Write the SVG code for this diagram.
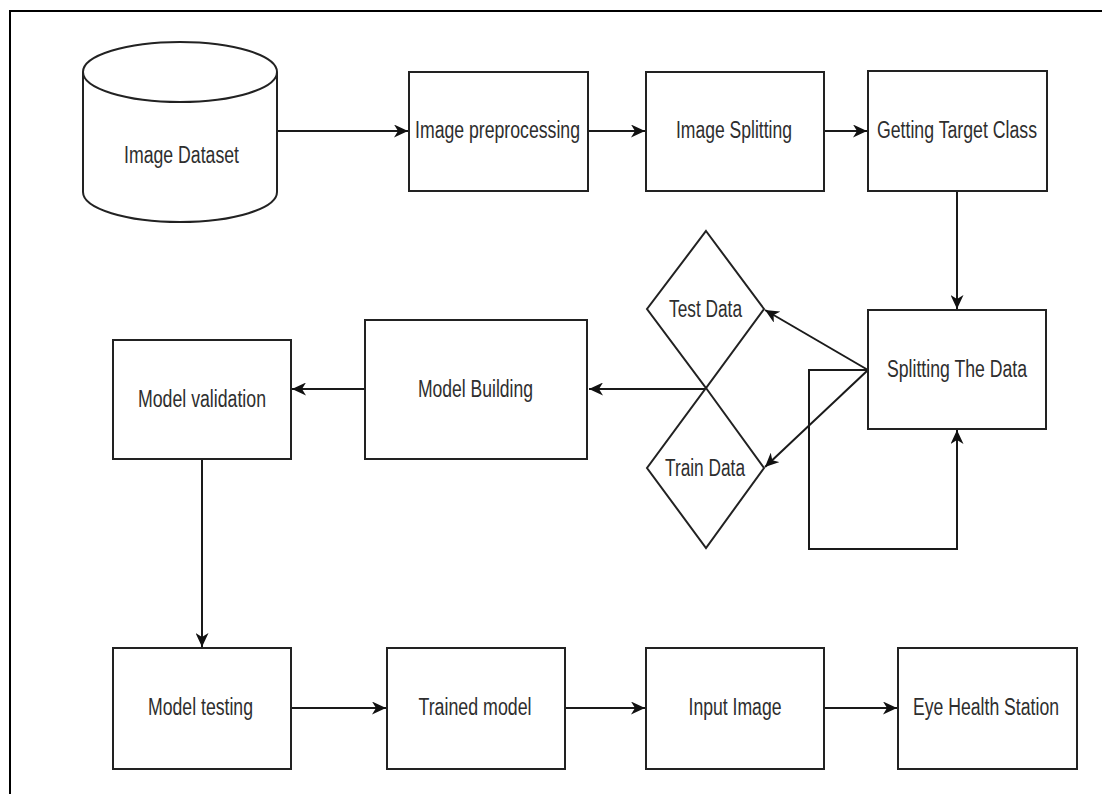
<svg xmlns="http://www.w3.org/2000/svg" width="1102" height="794" viewBox="0 0 1102 794">
<style>
.box{fill:#fff;stroke:#222;stroke-width:2}
.lbl{font-family:"Liberation Sans",Arial,sans-serif;font-size:23px;fill:#2e2e2e;text-anchor:middle}
.edge{fill:none;stroke:#1a1a1a;stroke-width:2}
.frame{fill:none;stroke:#000;stroke-width:2}
</style>
<defs>
<marker id="arr" markerUnits="userSpaceOnUse" markerWidth="15" markerHeight="13" viewBox="0 0 15 13" refX="14" refY="6.5" orient="auto">
<path d="M0,0 L14,6.5 L0,13 L4,6.5 z" fill="#111"/>
</marker>
</defs>
<rect width="1102" height="794" fill="#fff"/>
<path class="frame" d="M10,794 V11 H1102"/>

<g id="connectors">
<path class="edge" d="M277,131 H408" marker-end="url(#arr)"/>
<path class="edge" d="M588,131 H645" marker-end="url(#arr)"/>
<path class="edge" d="M824,131 H867" marker-end="url(#arr)"/>
<path class="edge" d="M957,191 V309" marker-end="url(#arr)"/>
<path class="edge" d="M868,370 L765,310" marker-end="url(#arr)"/>
<path class="edge" d="M868,370 L765,467" marker-end="url(#arr)"/>
<path class="edge" d="M868,370 H809 V549 H957 V430" marker-end="url(#arr)"/>
<path class="edge" d="M706,389 H589" marker-end="url(#arr)"/>
<path class="edge" d="M365,389 H292" marker-end="url(#arr)"/>
<path class="edge" d="M202,459 V647" marker-end="url(#arr)"/>
<path class="edge" d="M291,708 H386" marker-end="url(#arr)"/>
<path class="edge" d="M565,708 H645" marker-end="url(#arr)"/>
<path class="edge" d="M824,708 H897" marker-end="url(#arr)"/>
</g>

<g id="image-dataset">
<path class="box" d="M83,72 V192 A97,30 0 0 0 277,192 V72 A97,30 0 0 0 83,72 A97,30 0 0 0 277,72"/>
<text class="lbl" x="181.5" y="163" textLength="115" lengthAdjust="spacingAndGlyphs">Image Dataset</text>
</g>
<g id="image-preprocessing">
<rect class="box" x="409" y="72" width="179" height="119"/>
<text class="lbl" x="497.5" y="138" textLength="165" lengthAdjust="spacingAndGlyphs">Image preprocessing</text>
</g>
<g id="image-splitting">
<rect class="box" x="646" y="72" width="178" height="119"/>
<text class="lbl" x="734" y="138" textLength="116" lengthAdjust="spacingAndGlyphs">Image Splitting</text>
</g>
<g id="getting-target-class">
<rect class="box" x="868" y="71" width="179" height="120"/>
<text class="lbl" x="957" y="138" textLength="160" lengthAdjust="spacingAndGlyphs">Getting Target Class</text>
</g>
<g id="splitting-the-data">
<rect class="box" x="868" y="310" width="178" height="119"/>
<text class="lbl" x="957" y="377" textLength="140" lengthAdjust="spacingAndGlyphs">Splitting The Data</text>
</g>
<g id="test-data">
<path class="box" d="M706,231 L764,309 L706,388 L647,309 Z"/>
<text class="lbl" x="705.5" y="317" textLength="73" lengthAdjust="spacingAndGlyphs">Test Data</text>
</g>
<g id="train-data">
<path class="box" d="M706,388 L764,468 L706,548 L647,468 Z"/>
<text class="lbl" x="705" y="476" textLength="80" lengthAdjust="spacingAndGlyphs">Train Data</text>
</g>
<g id="model-building">
<rect class="box" x="365" y="320" width="222" height="139"/>
<text class="lbl" x="475.5" y="397" textLength="115" lengthAdjust="spacingAndGlyphs">Model Building</text>
</g>
<g id="model-validation">
<rect class="box" x="113" y="340" width="178" height="119"/>
<text class="lbl" x="202" y="407" textLength="128" lengthAdjust="spacingAndGlyphs">Model validation</text>
</g>
<g id="model-testing">
<rect class="box" x="113" y="648" width="178" height="121"/>
<text class="lbl" x="200.5" y="715" textLength="105" lengthAdjust="spacingAndGlyphs">Model testing</text>
</g>
<g id="trained-model">
<rect class="box" x="387" y="648" width="178" height="121"/>
<text class="lbl" x="475" y="715" textLength="113" lengthAdjust="spacingAndGlyphs">Trained model</text>
</g>
<g id="input-image">
<rect class="box" x="646" y="648" width="178" height="121"/>
<text class="lbl" x="735" y="715" textLength="93" lengthAdjust="spacingAndGlyphs">Input Image</text>
</g>
<g id="eye-health-station">
<rect class="box" x="898" y="648" width="179" height="121"/>
<text class="lbl" x="986" y="715" textLength="146" lengthAdjust="spacingAndGlyphs">Eye Health Station</text>
</g>
</svg>
